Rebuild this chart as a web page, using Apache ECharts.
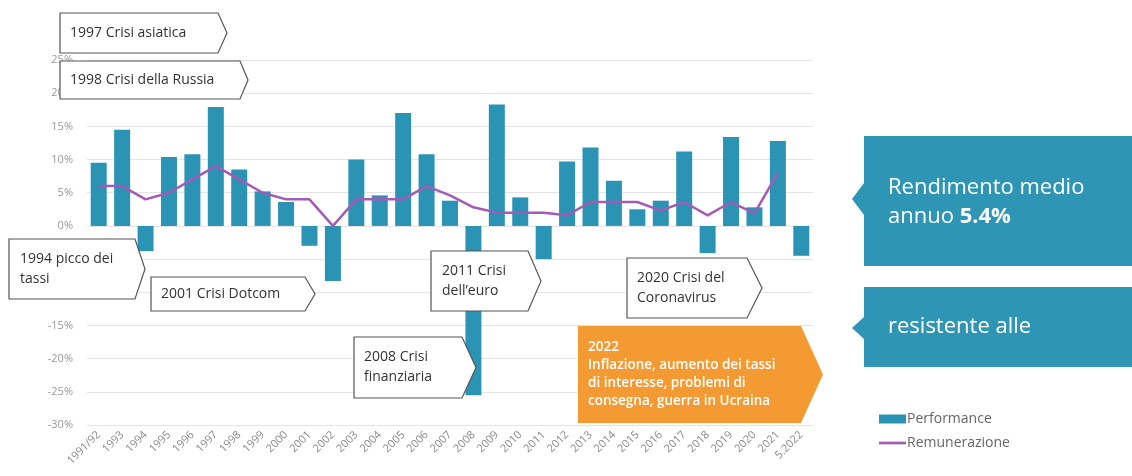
<!DOCTYPE html>
<html>
<head>
<meta charset="utf-8">
<script src="https://cdn.jsdelivr.net/npm/echarts@6/dist/echarts.min.js"></script>
<style>
  html, body { margin: 0; padding: 0; background: #fff; }
  #chart { width: 1132px; height: 476px; }
</style>
</head>
<body>
<div id="chart"></div>
<script>
// dati
const categories = ['1991/92', '1993', '1994', '1995', '1996', '1997', '1998', '1999', '2000', '2001',
  '2002', '2003', '2004', '2005', '2006', '2007', '2008', '2009', '2010', '2011', '2012', '2013',
  '2014', '2015', '2016', '2017', '2018', '2019', '2020', '2021', '5.2022'];
const performance = [9.5, 14.5, -3.8, 10.4, 10.8, 17.9, 8.5, 5.2, 3.6, -3.0, -8.3, 10.0, 4.6, 17.0,
  10.8, 3.8, -25.5, 18.3, 4.3, -5.0, 9.7, 11.8, 6.8, 2.5, 3.8, 11.2, -4.1, 13.4, 2.8, 12.8, -4.5];
const remunerazione = [6, 6, 4, 5, 7, 9, 7, 5, 4, 4, 0, 4, 4, 4, 6, 4.6, 2.8, 2, 2, 2, 1.6, 3.6,
  3.6, 3.6, 2.3, 3.6, 1.6, 3.6, 1.9, 8, null];
const yTicks = { min: -30, max: 25, step: 5 };

const FONT = '"Open Sans", "Noto Sans", sans-serif';

// box a freccia (chevron) con testo
function callout (x1, y1, xc, xp, y2, text, tx, fill, stroke, color, weight, size, lh) {
  return [
    {
      type: 'polygon',
      z: 100,
      shape: { points: [[x1, y1], [xc, y1], [xp, (y1 + y2) / 2], [xc, y2], [x1, y2]] },
      style: { fill: fill, stroke: stroke, lineWidth: stroke ? 1.2 : 0 }
    },
    {
      type: 'text',
      z: 101,
      style: {
        x: tx, y: (y1 + y2) / 2, text: text,
        fill: color,
        font: (weight || 'normal') + ' ' + (size || 14) + 'px ' + FONT,
        verticalAlign: 'middle',
        lineHeight: lh || 20
      }
    }
  ];
}

// pannello laterale con tacca a sinistra
function sidePanel (y1, y2, tipY, notchH) {
  return {
    type: 'polygon',
    z: 100,
    shape: {
      points: [[864, y1], [1132, y1], [1132, y2], [864, y2], [864, tipY + notchH],
        [852, tipY], [864, tipY - notchH]]
    },
    style: { fill: '#2e96b4' }
  };
}

const graphics = [].concat(
  callout(60, 13, 218, 227, 53, '1997 Crisi asiatica', 70, '#fff', '#555', '#333'),
  callout(60, 61, 240, 248, 99, '1998 Crisi della Russia', 70, '#fff', '#555', '#333'),
  callout(9, 239, 135, 145, 299, '1994 picco dei\ntassi', 20, '#fff', '#555', '#333'),
  callout(151, 277, 305, 315, 311, '2001 Crisi Dotcom', 161, '#fff', '#555', '#333'),
  callout(354, 337, 462, 476, 398, '2008 Crisi\nfinanziaria', 364, '#fff', '#555', '#333'),
  callout(431, 251, 528, 541, 311, '2011 Crisi\ndell\u2019euro', 442, '#fff', '#555', '#333'),
  callout(627, 258, 747, 762, 318, '2020 Crisi del\nCoronavirus', 637, '#fff', '#555', '#333'),
  callout(578, 326, 801, 823, 423,
    '2022\nInflazione, aumento dei tassi\ndi interesse, problemi di\nconsegna, guerra in Ucraina',
    588, '#f39a33', null, '#fff', '600', 13.5, 18),
  [
    sidePanel(136, 266, 199, 16),
    {
      type: 'text',
      z: 101,
      style: {
        x: 888, y: 202,
        text: '{a|Rendimento medio}\n{a|annuo }{b|5.4%}',
        verticalAlign: 'middle',
        rich: {
          a: { fill: '#fff', fontSize: 22, fontFamily: FONT, lineHeight: 29 },
          b: { fill: '#fff', fontSize: 22, fontFamily: FONT, fontWeight: 'bold', lineHeight: 29 }
        }
      }
    },
    sidePanel(287, 367, 328, 11),
    {
      type: 'text',
      z: 101,
      style: {
        x: 888, y: 327, text: 'resistente alle', fill: '#fff',
        font: '22px ' + FONT, verticalAlign: 'middle'
      }
    }
  ]
);

const chart = echarts.init(document.getElementById('chart'));
chart.setOption({
  animation: false,
  textStyle: { fontFamily: FONT },
  grid: { left: 87, right: 319, top: 60, bottom: 51, containLabel: false },
  legend: {
    orient: 'vertical',
    left: 874,
    top: 407,
    itemWidth: 27,
    itemHeight: 9,
    itemGap: 10,
    textStyle: { color: '#666', fontSize: 14, padding: [0, 0, 0, -4] },
    data: [
      { name: 'Performance', icon: 'rect' },
      { name: 'Remunerazione', icon: 'path://M0,0 L30,0 L30,3 L0,3 Z' }
    ]
  },
  xAxis: {
    type: 'category',
    data: categories,
    axisLine: { show: false, onZero: false },
    axisTick: { show: false },
    axisLabel: { rotate: 45, color: '#888', fontSize: 11, interval: 0, margin: 8 }
  },
  yAxis: {
    type: 'value',
    min: yTicks.min,
    max: yTicks.max,
    interval: yTicks.step,
    axisLine: { show: false },
    axisTick: { show: false },
    axisLabel: { color: '#999', fontSize: 11, margin: 14, formatter: v => v + '%' },
    splitLine: { lineStyle: { color: '#e4e4e4', width: 1 } }
  },
  series: [
    {
      name: 'Performance',
      type: 'bar',
      barWidth: 16,
      itemStyle: { color: '#2b94b4' },
      data: performance
    },
    {
      name: 'Remunerazione',
      type: 'line',
      symbol: 'none',
      lineStyle: { color: '#a35bb5', width: 2.5 },
      itemStyle: { color: '#a35bb5' },
      data: remunerazione
    }
  ],
  graphic: graphics
});
</script>
</body>
</html>
